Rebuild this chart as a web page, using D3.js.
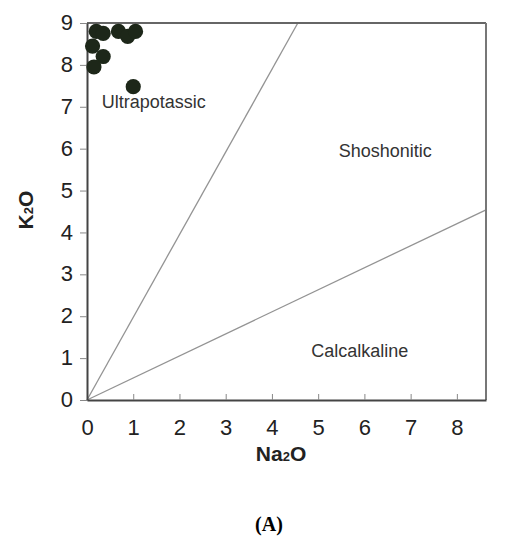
<!DOCTYPE html>
<html>
<head>
<meta charset="utf-8">
<script src="https://cdn.jsdelivr.net/npm/d3@7"></script>
<style>
  body { margin: 0; background: #fff; }
  text { font-family: "Liberation Sans", Arial, sans-serif; }
</style>
</head>
<body>
<div id="chart"></div>
<script>
// Data
var na2o = [0.2, 0.35, 0.12, 0.35, 0.15, 0.68, 0.88, 1.05, 1.0];
var k2o  = [8.8, 8.75, 8.45, 8.2, 7.95, 8.8, 8.68, 8.8, 7.48];

var xTicks = [0, 1, 2, 3, 4, 5, 6, 7, 8];
var yTicks = [0, 1, 2, 3, 4, 5, 6, 7, 8, 9];

// boundary lines [Na2O, K2O] end points, both start at the origin
var boundaryLines = [
  [[0, 0], [4.56, 9]],
  [[0, 0], [8.63, 4.54]]
];

var fieldNames = ["Ultrapotassic", "Shoshonitic", "Calcalkaline"];
var fieldPos = [[0.32, 6.97], [6.45, 5.8], [5.9, 1.03]];

var width = 518, height = 543;

var svg = d3.select("#chart")
  .append("svg")
  .attr("width", width)
  .attr("height", height);

var x = d3.scaleLinear().domain([0, 8.63]).range([87, 486]);
var y = d3.scaleLinear().domain([0, 9]).range([400, 23]);

// boundary lines
var line = d3.line()
  .x(function(d) { return x(d[0]); })
  .y(function(d) { return y(d[1]); });

svg.selectAll(".bound")
  .data(boundaryLines)
  .enter()
  .append("path")
  .attr("class", "bound")
  .attr("d", line)
  .attr("fill", "none")
  .attr("stroke", "#939393")
  .attr("stroke-width", 1.3);

// frame top / right
svg.append("line")
  .attr("x1", x(0)).attr("x2", x(8.63))
  .attr("y1", y(9)).attr("y2", y(9))
  .attr("stroke", "#666").attr("stroke-width", 2);
svg.append("line")
  .attr("x1", x(8.63)).attr("x2", x(8.63))
  .attr("y1", y(9)).attr("y2", y(0))
  .attr("stroke", "#777").attr("stroke-width", 2);

// axes
var xAxis = d3.axisBottom(x)
  .tickValues(xTicks)
  .tickSizeInner(-6)
  .tickSizeOuter(0)
  .tickPadding(19)
  .tickFormat(d3.format("d"));

var yAxis = d3.axisLeft(y)
  .tickValues(yTicks)
  .tickSizeInner(7)
  .tickSizeOuter(0)
  .tickPadding(7)
  .tickFormat(d3.format("d"));

var gx = svg.append("g")
  .attr("transform", "translate(0," + y(0) + ")")
  .call(xAxis);

var gy = svg.append("g")
  .attr("transform", "translate(" + x(0) + ",0)")
  .call(yAxis);

[gx, gy].forEach(function(g) {
  g.select(".domain").attr("stroke", "#444").attr("stroke-width", 2);
  g.selectAll(".tick line").attr("stroke", "#888").attr("stroke-width", 1);
  g.selectAll(".tick text")
    .attr("fill", "#222")
    .style("font-size", "22px")
    .style("font-family", "'Liberation Sans', Arial, sans-serif");
});
gy.selectAll(".tick text").attr("dy", "0.3em");

// points
svg.selectAll(".pt")
  .data(na2o)
  .enter()
  .append("circle")
  .attr("class", "pt")
  .attr("cx", function(d) { return x(d); })
  .attr("cy", function(d, i) { return y(k2o[i]); })
  .attr("r", 7.6)
  .attr("fill", "#1d2719");

// field labels
svg.selectAll(".field")
  .data(fieldNames)
  .enter()
  .append("text")
  .attr("class", "field")
  .attr("x", function(d, i) { return x(fieldPos[i][0]); })
  .attr("y", function(d, i) { return y(fieldPos[i][1]); })
  .attr("text-anchor", function(d, i) { return i == 0 ? "start" : "middle"; })
  .attr("fill", "#333")
  .style("font-size", "18px")
  .text(function(d) { return d; });

// axis titles
var xt = svg.append("text")
  .attr("x", 281)
  .attr("y", 461)
  .attr("text-anchor", "middle")
  .attr("fill", "#222")
  .style("font-size", "21px")
  .style("font-weight", "bold");
xt.append("tspan").text("Na");
xt.append("tspan").style("font-size", "13px").text("2");
xt.append("tspan").text("O");

var yt = svg.append("text")
  .attr("transform", "translate(33,210) rotate(-90)")
  .attr("text-anchor", "middle")
  .attr("fill", "#222")
  .style("font-size", "21px")
  .style("font-weight", "bold");
yt.append("tspan").text("K");
yt.append("tspan").style("font-size", "13px").text("2");
yt.append("tspan").text("O");

// caption
svg.append("text")
  .attr("x", 269)
  .attr("y", 531)
  .attr("text-anchor", "middle")
  .attr("fill", "#000")
  .style("font-family", "'Liberation Serif', 'Times New Roman', serif")
  .style("font-size", "20px")
  .style("font-weight", "bold")
  .text("(A)");
</script>
</body>
</html>
